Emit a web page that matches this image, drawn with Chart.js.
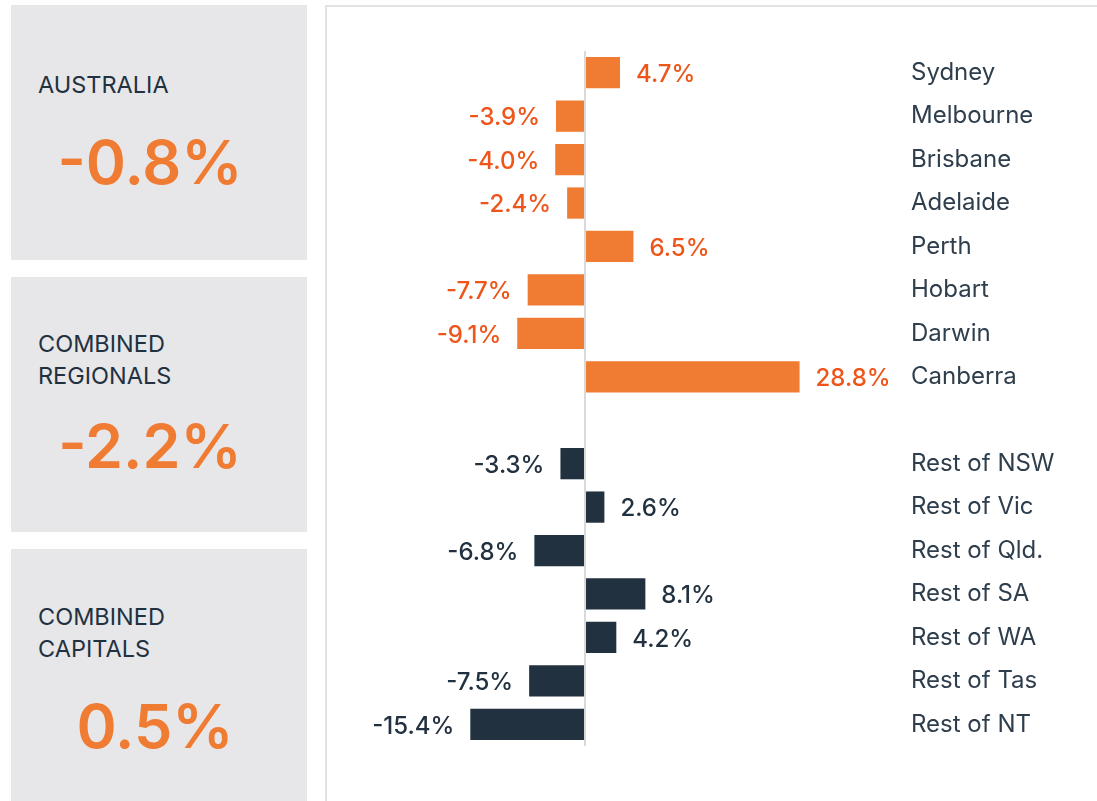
<!DOCTYPE html>
<html>
<head>
  <title>Price change by capital and region</title>
  <meta charset="utf-8" />
  <script src="https://cdn.jsdelivr.net/npm/chart.js@4/dist/chart.umd.min.js"></script>
  <style>
    html, body {
      margin: 0;
      padding: 0;
      width: 1097px;
      height: 801px;
      overflow: hidden;
      background: #ffffff;
      font-family: 'Inter', 'Noto Sans', sans-serif;
    }
    .box {
      position: absolute;
      left: 11px;
      width: 296px;
      height: 255px;
      background: #e7e7ea;
    }
    .box .label {
      position: absolute;
      left: 27px;
      font-size: 23.5px;
      line-height: 32px;
      color: #22313f;
    }
    .box .value {
      position: absolute;
      left: 0;
      width: 294px;
      text-align: center;
      font-size: 61px;
      font-weight: 600;
      line-height: 64px;
      color: #f07b32;
    }
    #panel {
      position: absolute;
      left: 325px;
      top: 5px;
      width: 820px;
      height: 830px;
      border: 2px solid #e2e2e2;
    }
    #chartWrap {
      position: absolute;
      left: 326px;
      top: 5px;
    }
  </style>
</head>
<body>
  <div id="boxes"></div>
  <div id="panel"></div>
  <div id="chartWrap">
    <canvas id="changeChart" width="771" height="796"></canvas>
  </div>
  <script>
    // summary boxes
    var summaryLabels = [['AUSTRALIA'], ['COMBINED', 'REGIONALS'], ['COMBINED', 'CAPITALS']];
    var summaryValues = ['-0.8%', '-2.2%', '0.5%'];

    // bar chart
    var categories = ['Sydney', 'Melbourne', 'Brisbane', 'Adelaide', 'Perth', 'Hobart', 'Darwin', 'Canberra', '',
      'Rest of NSW', 'Rest of Vic', 'Rest of Qld.', 'Rest of SA', 'Rest of WA', 'Rest of Tas', 'Rest of NT'];
    var changes = [4.7, -3.9, -4.0, -2.4, 6.5, -7.7, -9.1, 28.8, null,
      -3.3, 2.6, -6.8, 8.1, 4.2, -7.5, -15.4];
    var groups = ['capital', 'capital', 'capital', 'capital', 'capital', 'capital', 'capital', 'capital', '',
      'regional', 'regional', 'regional', 'regional', 'regional', 'regional', 'regional'];

    var barColors = { capital: '#f07b32', regional: '#22313f' };
    var textColors = { capital: '#ef5418', regional: '#22313f' };

    // left boxes (page coords)
    var boxTops = [5, 277, 549];
    var labelTops = [69, 328, 601];
    var valueTops = [130, 414, 694];
    var valueShift = [-8, -8, -3];
    var boxes = document.getElementById('boxes');
    summaryLabels.forEach(function(lines, i) {
      var box = document.createElement('div');
      box.className = 'box';
      box.style.top = boxTops[i] + 'px';
      var lab = document.createElement('div');
      lab.className = 'label';
      lab.style.top = (labelTops[i] - boxTops[i]) + 'px';
      lab.innerHTML = lines.join('<br>');
      box.appendChild(lab);
      var val = document.createElement('div');
      val.className = 'value';
      val.style.top = (valueTops[i] - boxTops[i]) + 'px';
      val.style.left = valueShift[i] + 'px';
      val.textContent = summaryValues[i];
      box.appendChild(val);
      boxes.appendChild(box);
    });

    var valueLabels = {
      id: 'valueLabels',
      afterDatasetsDraw: function(chart) {
        var ctx = chart.ctx;
        var meta = chart.getDatasetMeta(0);
        ctx.save();
        ctx.font = '500 24px Inter';
        ctx.textBaseline = 'middle';
        meta.data.forEach(function(bar, i) {
          var v = changes[i];
          if (v === null) return;
          ctx.fillStyle = textColors[groups[i]];
          var txt = v.toFixed(1) + '%';
          if (v >= 0) {
            ctx.textAlign = 'left';
            ctx.fillText(txt, bar.x + 16, bar.y + 2);
          } else {
            ctx.textAlign = 'right';
            ctx.fillText(txt, bar.x - 16, bar.y + 2);
          }
        });
        ctx.restore();
      }
    };

    var ctx = document.getElementById('changeChart').getContext('2d');
    var chart = new Chart(ctx, {
      type: 'bar',
      data: {
        labels: categories,
        datasets: [{
          data: changes,
          backgroundColor: groups.map(function(g) { return barColors[g] || 'transparent'; }),
          borderWidth: 0,
          barPercentage: 0.72,
          categoryPercentage: 1
        }]
      },
      options: {
        indexAxis: 'y',
        responsive: false,
        animation: false,
        layout: { padding: { top: 46, bottom: 55, left: 0, right: 0 } },
        plugins: {
          legend: { display: false },
          tooltip: { enabled: false }
        },
        scales: {
          x: {
            min: -34.77,
            max: 42.28,
            afterBuildTicks: function(scale) { scale.ticks = [{ value: 0 }]; },
            ticks: { display: false },
            border: { display: false },
            grid: {
              drawTicks: false,
              lineWidth: 2,
              color: function(c) { return c.tick && c.tick.value === 0 ? '#d9d9d9' : 'transparent'; }
            }
          },
          y: {
            position: 'right',
            afterFit: function(scale) { scale.width = 197; },
            border: { display: false },
            grid: { display: false, drawTicks: false },
            ticks: {
              padding: 11,
              color: '#2e3e4c',
              font: { family: 'Inter', size: 24, weight: 400 },
              autoSkip: false
            }
          }
        }
      },
      plugins: [valueLabels]
    });
  </script>
</body>
</html>
